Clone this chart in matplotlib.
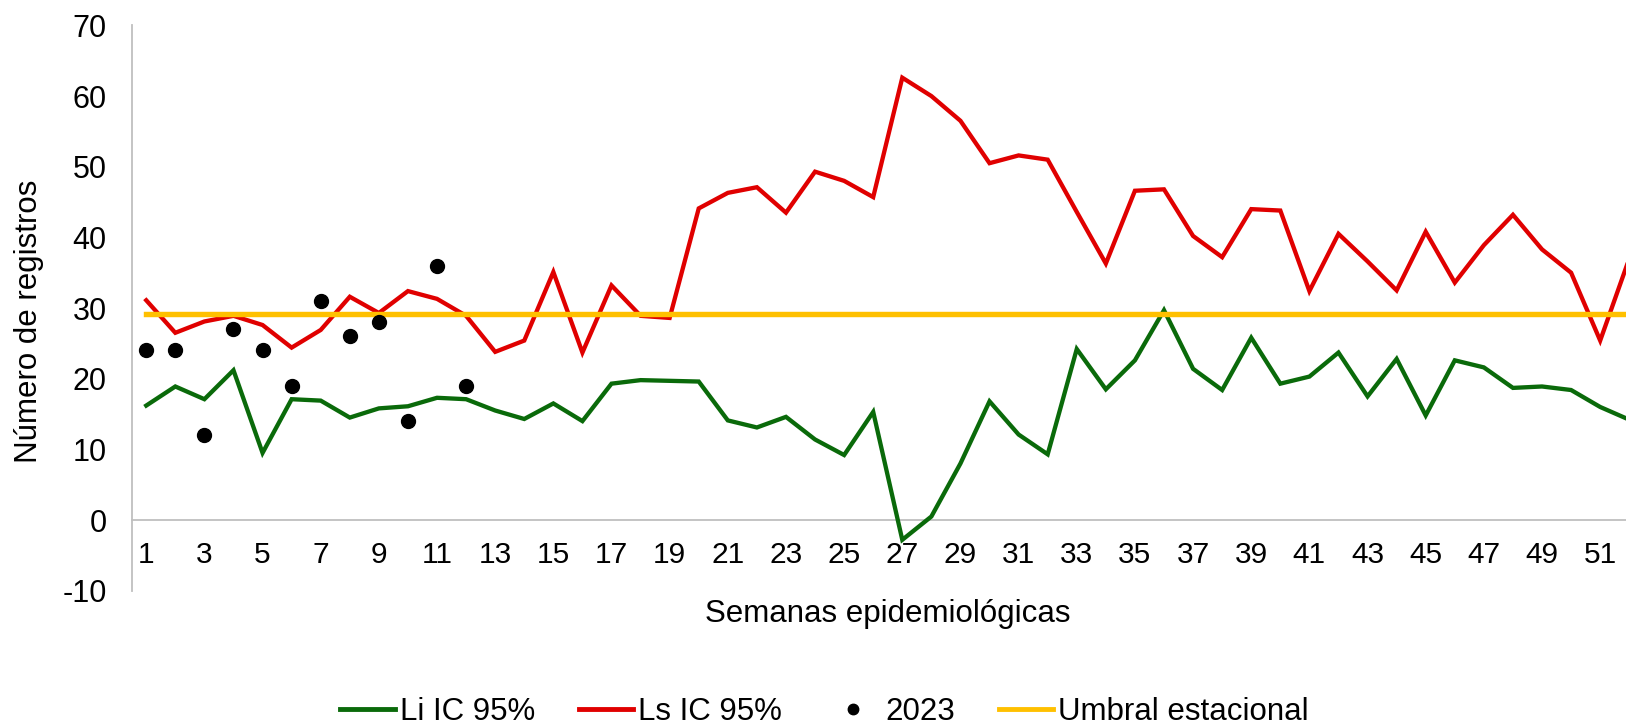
import matplotlib
matplotlib.use("Agg")
import matplotlib.pyplot as plt
from matplotlib.lines import Line2D

# ---- data ----
weeks = list(range(1, 53))
li_ic95 = [16.2, 18.9, 17.1, 21.2, 9.5, 17.1, 16.9, 14.5, 15.8, 16.1,
           17.3, 17.1, 15.5, 14.3, 16.5, 14.0, 19.3, 19.8, 19.7, 19.6,
           14.1, 13.1, 14.6, 11.4, 9.2, 15.3, -2.8, 0.5, 8.0, 16.8,
           12.1, 9.3, 24.2, 18.5, 22.6, 29.7, 21.4, 18.4, 25.8, 19.3,
           20.3, 23.7, 17.5, 22.8, 14.8, 22.6, 21.6, 18.7, 18.9, 18.4,
           16.0, 14.2]
ls_ic95 = [31.1, 26.5, 28.1, 28.9, 27.6, 24.4, 26.9, 31.6, 29.3, 32.4,
           31.3, 28.9, 23.8, 25.4, 35.1, 23.7, 33.2, 28.9, 28.6, 44.1,
           46.3, 47.1, 43.5, 49.3, 48.0, 45.7, 62.6, 60.0, 56.5, 50.5,
           51.6, 51.0, 43.6, 36.3, 46.6, 46.8, 40.2, 37.2, 44.0, 43.8,
           32.4, 40.5, 36.6, 32.5, 40.8, 33.6, 38.9, 43.2, 38.3, 35.0,
           25.4, 37.0]
weeks_2023 = list(range(1, 13))
cases_2023 = [24, 24, 12, 27, 24, 19, 31, 26, 28, 14, 36, 19]
umbral = [29.1] * 52
xtick_labels = [str(w) for w in range(1, 53, 2)]

GREEN = "#0A6A0A"
RED = "#E00000"
GOLD = "#FFC000"
AXIS_GRAY = "#BFBFBF"

plt.rcParams['font.family'] = ['Liberation Sans', 'DejaVu Sans']
plt.rcParams['axes.unicode_minus'] = False

W, H = 1626, 727
fig = plt.figure(figsize=(W / 100, H / 100), dpi=100)
ax = fig.add_axes([131.7 / W, 1 - 590.7 / H, (1643.8 - 131.7) / W, (590.7 - 25.4) / H])

ax.plot(weeks, li_ic95, color=GREEN, lw=3.1, solid_joinstyle='miter', zorder=3)
ax.plot(weeks, ls_ic95, color=RED, lw=3.1, solid_joinstyle='miter', zorder=3)
ax.plot(weeks, umbral, color=GOLD, lw=3.9, zorder=4)
ax.plot(weeks_2023, cases_2023, linestyle='none', marker='o', markersize=10,
        color='black', zorder=5)

ax.set_xlim(0.5, 52.5)
ax.set_ylim(-10, 70)
ax.set_yticks(range(-10, 71, 10))
ax.set_xticks(range(1, 53, 2))
ax.set_xticklabels(xtick_labels)

for s in ['top', 'right']:
    ax.spines[s].set_visible(False)
ax.spines['bottom'].set_position(('data', 0))
ax.spines['bottom'].set_color(AXIS_GRAY)
ax.spines['left'].set_color(AXIS_GRAY)
ax.spines['bottom'].set_linewidth(1.3)
ax.spines['left'].set_linewidth(1.3)
ax.tick_params(axis='x', length=0, pad=15, labelsize=21.5)
ax.tick_params(axis='y', length=0, pad=18, labelsize=22)

fig.text(887.7 / W, 1 - 614 / H, "Semanas epidemiológicas", ha='center', va='center', fontsize=22.5)
fig.text(29 / W, 1 - 321.5 / H, "Número de registros", ha='center', va='center',
         rotation=90, fontsize=22.5)

handles = [
    Line2D([], [], color=GREEN, lw=3.5),
    Line2D([], [], color=RED, lw=3.5),
    Line2D([], [], color='black', linestyle='none', marker='o', markersize=7.5),
    Line2D([], [], color=GOLD, lw=3.5),
]
labels = ["Li IC 95%", "Ls IC 95%", "2023", "Umbral estacional"]
fig.legend(handles, labels, loc='center', bbox_to_anchor=(824.5 / W, 1 - 712 / H), ncol=4,
           frameon=False, fontsize=22.5, handlelength=1.75, handletextpad=0.15,
           columnspacing=1.4, borderaxespad=0, borderpad=0)

fig.savefig("out.png", dpi=100)
